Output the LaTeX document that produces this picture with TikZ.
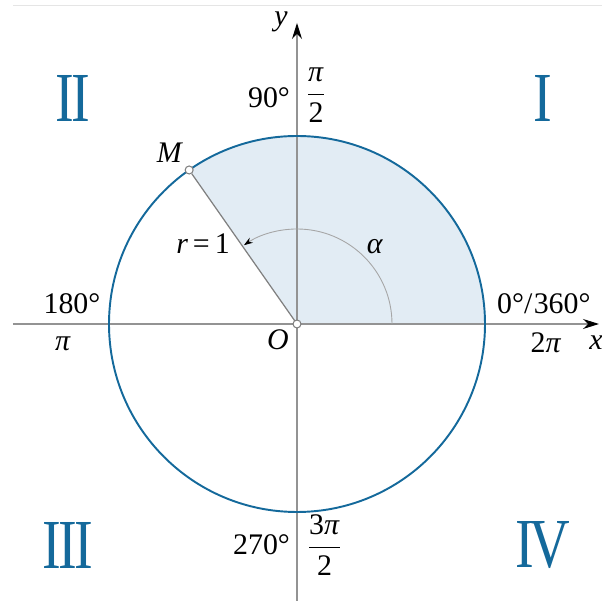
\documentclass[tikz,border=0pt]{standalone}
\usepackage{fontspec}
\setmainfont{Liberation Serif}
\usepackage{tikz}
\usetikzlibrary{arrows.meta}
\definecolor{circblue}{RGB}{20,105,155}
\definecolor{sectfill}{RGB}{226,236,244}
\newcommand{\iv}[1]{\textit{#1}}
\begin{document}
\begin{tikzpicture}[lbl/.style={inner sep=1pt, font=\fontsize{17}{20}\selectfont},
    quad/.style={text=circblue, inner sep=0pt, font=\fontsize{40}{44}\selectfont},
    pt/.style={circle, draw=gray, fill=white, line width=0.6pt, inner sep=0pt, minimum size=0.16cm},
    axis/.style={gray!85, line width=0.6pt, -{Stealth[length=0.32cm, width=0.2cm, black]}}]
    \useasboundingbox (-5.94,-5.54) rectangle (6.10,6.48);
    \draw[gray!20, line width=0.5pt] (-5.68,6.38) -- (6.10,6.38);
    \fill[sectfill] (0,0) -- (0:3.76) arc (0:125:3.76) -- cycle;
    \coordinate (o) at (0,0);
    \coordinate (xs) at (-5.68,0);
    \coordinate (xe) at (6.04,0);
    \coordinate (ys) at (0,-5.54);
    \coordinate (ye) at (0,6.02);
    \draw[axis] (xs) -- (xe);
    \draw[axis] (ys) -- (ye);
    \draw[gray!70, line width=0.5pt, -{Stealth[length=0.18cm, width=0.12cm, black]}] (0:1.9) arc (0:124:1.9);
    \draw[circblue, line width=1.1pt] (o) circle (3.76);
    \node[pt] (m) at (125:3.76) {};
    \draw[gray, line width=0.7pt] (o) -- (m);
    \node[pt] (on) at (o) {};
    \node[quad] (q1) at (4.92,4.52) {\scalebox{0.8}[1]{I}};
    \node[quad] (q2) at (-4.48,4.52) {\scalebox{0.8}[1]{I\kern-0.05emI}};
    \node[quad] (q3) at (-4.58,-4.42) {\scalebox{0.8}[1]{I\kern-0.05emI\kern-0.05emI}};
    \node[quad] (q4) at (4.92,-4.42) {\scalebox{0.8}[1]{I\kern-0.08emV}};
    \node[lbl, anchor=east] (d90) at (-0.1,4.52) {90°};
    \node[lbl, anchor=west] (r90) at (0.14,4.58) {$\displaystyle\frac{\mbox{\iv{π}}}{\mbox{2}}$};
    \node[lbl] (d180) at (-4.5,0.4) {180°};
    \node[lbl] (r180) at (-4.68,-0.4) {\iv{π}};
    \node[lbl, anchor=west] (d360) at (3.96,0.4) {0°/\kern0.05em360°};
    \node[lbl] (r360) at (4.98,-0.38) {2\iv{π}};
    \node[lbl] (xl) at (5.98,-0.38) {\iv{x}};
    \node[lbl] (yl) at (-0.32,6.04) {\iv{y}};
    \node[lbl] (ol) at (-0.38,-0.32) {\iv{O}};
    \node[lbl, anchor=east] (d270) at (-0.1,-4.42) {270°};
    \node[lbl, anchor=west] (r270) at (0.16,-4.42) {$\displaystyle\frac{\mbox{3\iv{π}}}{\mbox{2}}$};
    \node[lbl] (ml) at (-2.54,3.42) {\iv{M}};
    \node[lbl] (rl) at (-1.88,1.6) {\iv{r}\,=\,1};
    \node[lbl] (al) at (1.56,1.54) {\iv{α}};
\end{tikzpicture}
\end{document}
